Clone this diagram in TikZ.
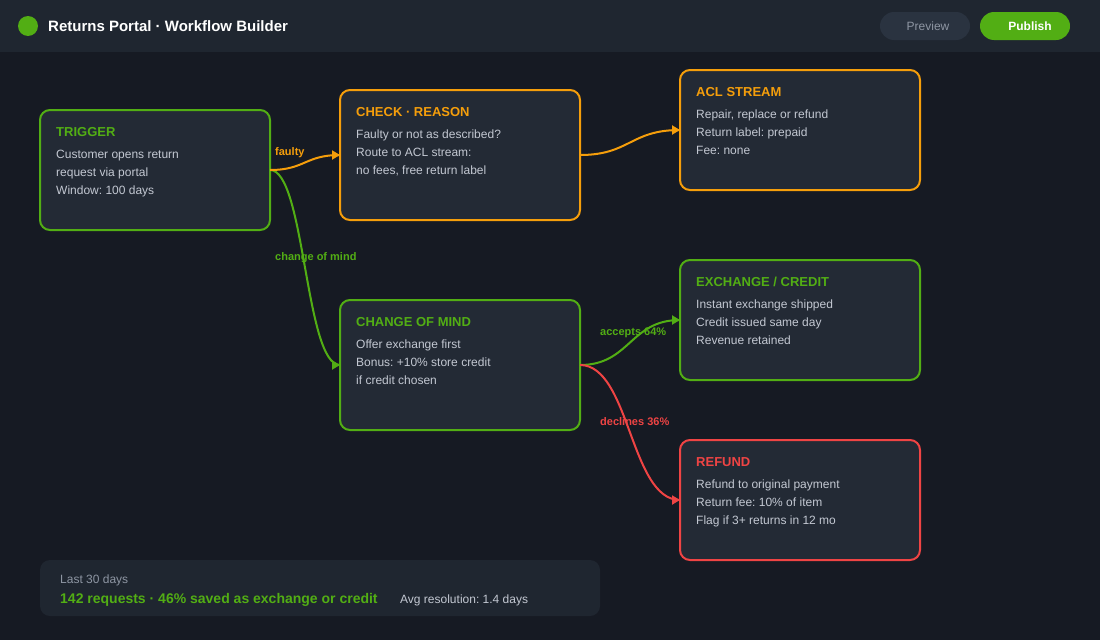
\documentclass[tikz,border=0pt]{standalone}
\usepackage{fontspec}
\setmainfont{Liberation Sans}
\usetikzlibrary{arrows.meta}
\definecolor{bgc}{HTML}{161A23}
\definecolor{barc}{HTML}{1F2630}
\definecolor{boxc}{HTML}{232A35}
\definecolor{pillc}{HTML}{2A3340}
\definecolor{greenc}{HTML}{52AE14}
\definecolor{orangec}{HTML}{F59E0B}
\definecolor{redc}{HTML}{EF4444}
\definecolor{bodyc}{HTML}{C3C8D2}
\definecolor{mutedc}{HTML}{8E96A3}
\tikzset{
  card/.style={draw=#1,fill=boxc,line width=2pt,rounded corners=10pt,minimum width=240pt,outer sep=0pt,inner sep=0pt},
  cardtitle/.style={anchor=base west,inner sep=0pt,text=#1,font=\fontsize{13}{16}\selectfont\bfseries},
  cardbody/.style={anchor=north west,inner sep=0pt,align=left,text=bodyc,font=\fontsize{12}{18}\selectfont\frenchspacing},
  edge/.style={draw=#1,line width=2pt},
  edgetip/.style={draw=#1,line width=2pt,-{Triangle[length=8pt,width=9pt]}},
  edgelabel/.style={anchor=base west,inner sep=0pt,text=#1,font=\fontsize{11}{13}\selectfont\bfseries},
  pill/.style={rounded corners=14pt,minimum width=90pt,minimum height=28pt,inner sep=0pt,outer sep=0pt,font=\fontsize{12}{14}\selectfont},
}
\begin{document}
\begin{tikzpicture}[x=1pt,y=-1pt]
\useasboundingbox (0,0) rectangle (1100,640);
\fill[bgc] (0,0) rectangle (1100,640);
\fill[barc] (0,0) rectangle (1100,52);
\node[circle,fill=greenc,minimum size=20pt,inner sep=0pt,outer sep=0pt] (logo) at (28,26) {};
\node[anchor=base west,inner sep=0pt,text=white,font=\fontsize{15}{17}\selectfont\bfseries] (apptitle) at (48,31) {Returns Portal · Workflow Builder};
\node[pill,fill=pillc,text=mutedc] (preview) at (925,26) {\hspace{6pt}Preview};
\node[pill,fill=greenc,text=white,font=\fontsize{12}{14}\selectfont\bfseries] (publish) at (1025,26) {\hspace{10pt}Publish};

\node[card=greenc,minimum width=230pt,minimum height=120pt] (trigger) at (155,170) {};
\node[card=orangec,minimum height=130pt] (check) at (460,155) {};
\node[card=orangec,minimum height=120pt] (acl) at (800,130) {};
\node[card=greenc,minimum height=130pt] (change) at (460,365) {};
\node[card=greenc,minimum height=120pt] (exchange) at (800,320) {};
\node[card=redc,minimum height=120pt] (refund) at (800,500) {};

\node[cardtitle=greenc] (t1) at (56,136) {TRIGGER};
\node[cardbody] (b1) at (56,150) {Customer opens return\\request via portal\\Window: 100 days};
\node[cardtitle=orangec] (t2) at (356,116) {CHECK · REASON};
\node[cardbody] (b2) at (356,130) {Faulty or not as described?\\Route to ACL stream:\\no fees, free return label};
\node[cardtitle=orangec] (t3) at (696,96) {ACL STREAM};
\node[cardbody] (b3) at (696,110) {Repair, replace or refund\\Return label: prepaid\\Fee: none};
\node[cardtitle=greenc] (t4) at (356,326) {CHANGE OF MIND};
\node[cardbody] (b4) at (356,340) {Offer exchange first\\Bonus: +10\% store credit\\if credit chosen};
\node[cardtitle=greenc] (t5) at (696,286) {EXCHANGE / CREDIT};
\node[cardbody] (b5) at (696,300) {Instant exchange shipped\\Credit issued same day\\Revenue retained};
\node[cardtitle=redc] (t6) at (696,466) {REFUND};
\node[cardbody] (b6) at (696,480) {Refund to original payment\\Return fee: 10\% of item\\Flag if 3+ returns in 12 mo};

\draw[edge=greenc] (trigger.east) .. controls +(35,0) and +(-35,0) .. (change.west);
\draw[edgetip=greenc] ([xshift=-8pt]change.west) -- (change.west);
\draw[edge=orangec] (trigger.east) .. controls +(35,0) and +(-35,0) .. (check.west);
\draw[edgetip=orangec] ([xshift=-8pt]check.west) -- (check.west);
\draw[edge=orangec] (check.east) .. controls +(50,0) and +(-50,0) .. (acl.west);
\draw[edgetip=orangec] ([xshift=-8pt]acl.west) -- (acl.west);
\draw[edge=greenc] (change.east) .. controls +(50,0) and +(-50,0) .. (exchange.west);
\draw[edgetip=greenc] ([xshift=-8pt]exchange.west) -- (exchange.west);
\draw[edge=redc] (change.east) .. controls +(50,0) and +(-50,0) .. (refund.west);
\draw[edgetip=redc] ([xshift=-8pt]refund.west) -- (refund.west);

\node[edgelabel=orangec] (l1) at (275,155) {faulty};
\node[edgelabel=greenc] (l2) at (275,260) {change of mind};
\node[edgelabel=greenc] (l3) at (600,335) {accepts 64\%};
\node[edgelabel=redc] (l4) at (600,425) {declines 36\%};

\node[fill=barc,rounded corners=10pt,minimum width=560pt,minimum height=56pt,inner sep=0pt,outer sep=0pt] (stats) at (320,588) {};
\node[anchor=base west,inner sep=0pt,text=mutedc,font=\fontsize{12}{14}\selectfont] (s1) at (60,583) {Last 30 days};
\node[anchor=base west,inner sep=0pt,text=greenc,font=\fontsize{14}{16}\selectfont\bfseries] (s2) at (60,603) {142 requests · 46\% saved as exchange or credit};
\node[anchor=base west,inner sep=0pt,text=bodyc,font=\fontsize{12}{14}\selectfont\frenchspacing] (s3) at (400,603) {Avg resolution: 1.4 days};
\end{tikzpicture}
\end{document}
